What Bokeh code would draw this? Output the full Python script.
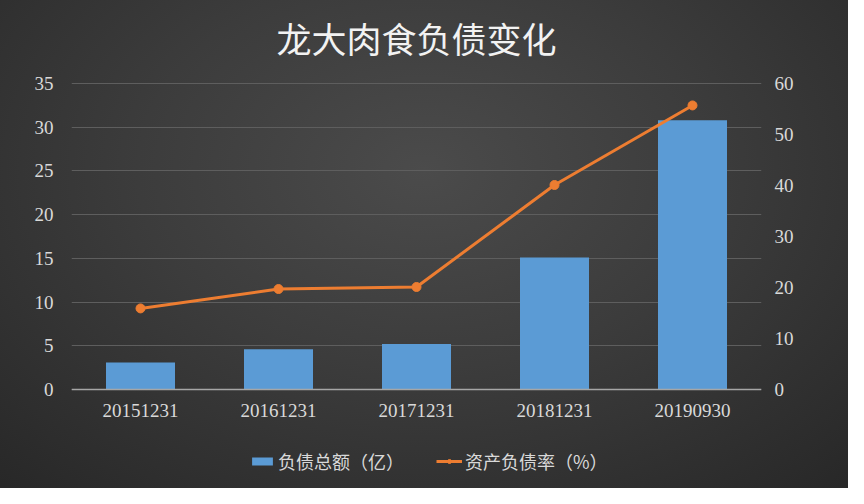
from bokeh.plotting import figure
from bokeh.models import (Range1d, LinearAxis, Legend, LegendItem, FixedTicker,
                          ColumnDataSource, Span, Label)
from bokeh.core.properties import value
from bokeh.embed import file_html
from bokeh.resources import INLINE

categories = ["20151231", "20161231", "20171231", "20181231", "20190930"]
debt_total = [3.1, 4.6, 5.2, 15.1, 30.8]
debt_ratio = [15.9, 19.7, 20.1, 40.1, 55.7]
left_ticks = [0, 5, 10, 15, 20, 25, 30, 35]
right_ticks = [0, 10, 20, 30, 40, 50, 60]

# layout (pixels)
W, H = 848, 488
PLOT_TOP, PLOT_BOTTOM = 83, 389      # pixel rows of the top gridline and the baseline
LEFT_B, RIGHT_B = 71, 87
FRAME_W = W - LEFT_B - RIGHT_B
plot_h = PLOT_BOTTOM - PLOT_TOP

def padded(lo, hi):
    per = (hi - lo) / plot_h
    return Range1d(lo - (H - PLOT_BOTTOM) * per, hi + PLOT_TOP * per)

src = ColumnDataSource(dict(cat=categories, debt=debt_total, ratio=debt_ratio))

p = figure(frame_width=FRAME_W, frame_height=H, x_range=categories,
           y_range=padded(left_ticks[0], left_ticks[-1]),
           output_backend="svg", toolbar_location=None,
           min_border_left=LEFT_B, min_border_right=RIGHT_B, min_border_top=0, min_border_bottom=0)
p.styles = {"background": "radial-gradient(ellipse 75% 90% at 50% 35%, #4b4b4b 0%, #3c3c3c 45%, #272727 100%)"}
p.background_fill_color = None
p.border_fill_color = None
p.outline_line_color = None

p.extra_y_ranges = {"right": padded(right_ticks[0], right_ticks[-1])}

bars = p.vbar(x="cat", top="debt", width=0.5, source=src, fill_color="#5b9bd5", line_color=None)
line = p.line(x="cat", y="ratio", source=src, y_range_name="right", line_color="#ed7d31", line_width=3)
pts = p.scatter(x="cat", y="ratio", source=src, y_range_name="right", size=9,
                fill_color="#ed7d31", line_color="#ed7d31")

p.xgrid.grid_line_color = None
p.ygrid.grid_line_color = "#5e5e5e"
p.ygrid.grid_line_width = 1
p.yaxis.ticker = FixedTicker(ticks=left_ticks)

p.add_layout(Span(location=0, dimension="width", line_color="#a6a6a6", line_width=1.5))

ra = LinearAxis(y_range_name="right", ticker=FixedTicker(ticks=right_ticks))
p.add_layout(ra, "right")

for ax in [p.yaxis[0], ra]:
    ax.axis_line_color = None
    ax.major_tick_line_color = None
    ax.minor_tick_line_color = None
    ax.major_label_text_color = "#d9d9d9"
    ax.major_label_text_font = "Liberation Serif"
    ax.major_label_text_font_size = "19px"
p.yaxis[0].major_label_standoff = 12
ra.major_label_standoff = 7

p.xaxis.visible = False
p.text(x=categories, y=[0] * len(categories), text=categories, y_offset=21,
       text_align="center", text_baseline="middle", text_color="#d9d9d9",
       text_font=value("Liberation Serif"), text_font_size="19px")

p.add_layout(Label(x=FRAME_W / 2, y=H - 37, x_units="screen", y_units="screen",
                   text="龙大肉食负债变化", text_align="center", text_baseline="middle",
                   text_color="#f2f2f2", text_font="Noto Sans CJK SC", text_font_size="35px"))

legend = Legend(items=[LegendItem(label="负债总额（亿）", renderers=[bars]),
                       LegendItem(label="资产负债率（%）", renderers=[line, pts])],
                orientation="horizontal", location=(178, 14))
legend.background_fill_alpha = 0
legend.border_line_color = None
legend.label_text_color = "#d9d9d9"
legend.label_text_font = "Noto Sans CJK SC"
legend.label_text_font_size = "18px"
legend.glyph_width = 26
legend.glyph_height = 10
legend.spacing = 32
legend.margin = 0
legend.padding = 0
legend.label_standoff = 3
p.add_layout(legend)

open("out.html", "w").write(file_html(p, INLINE))
